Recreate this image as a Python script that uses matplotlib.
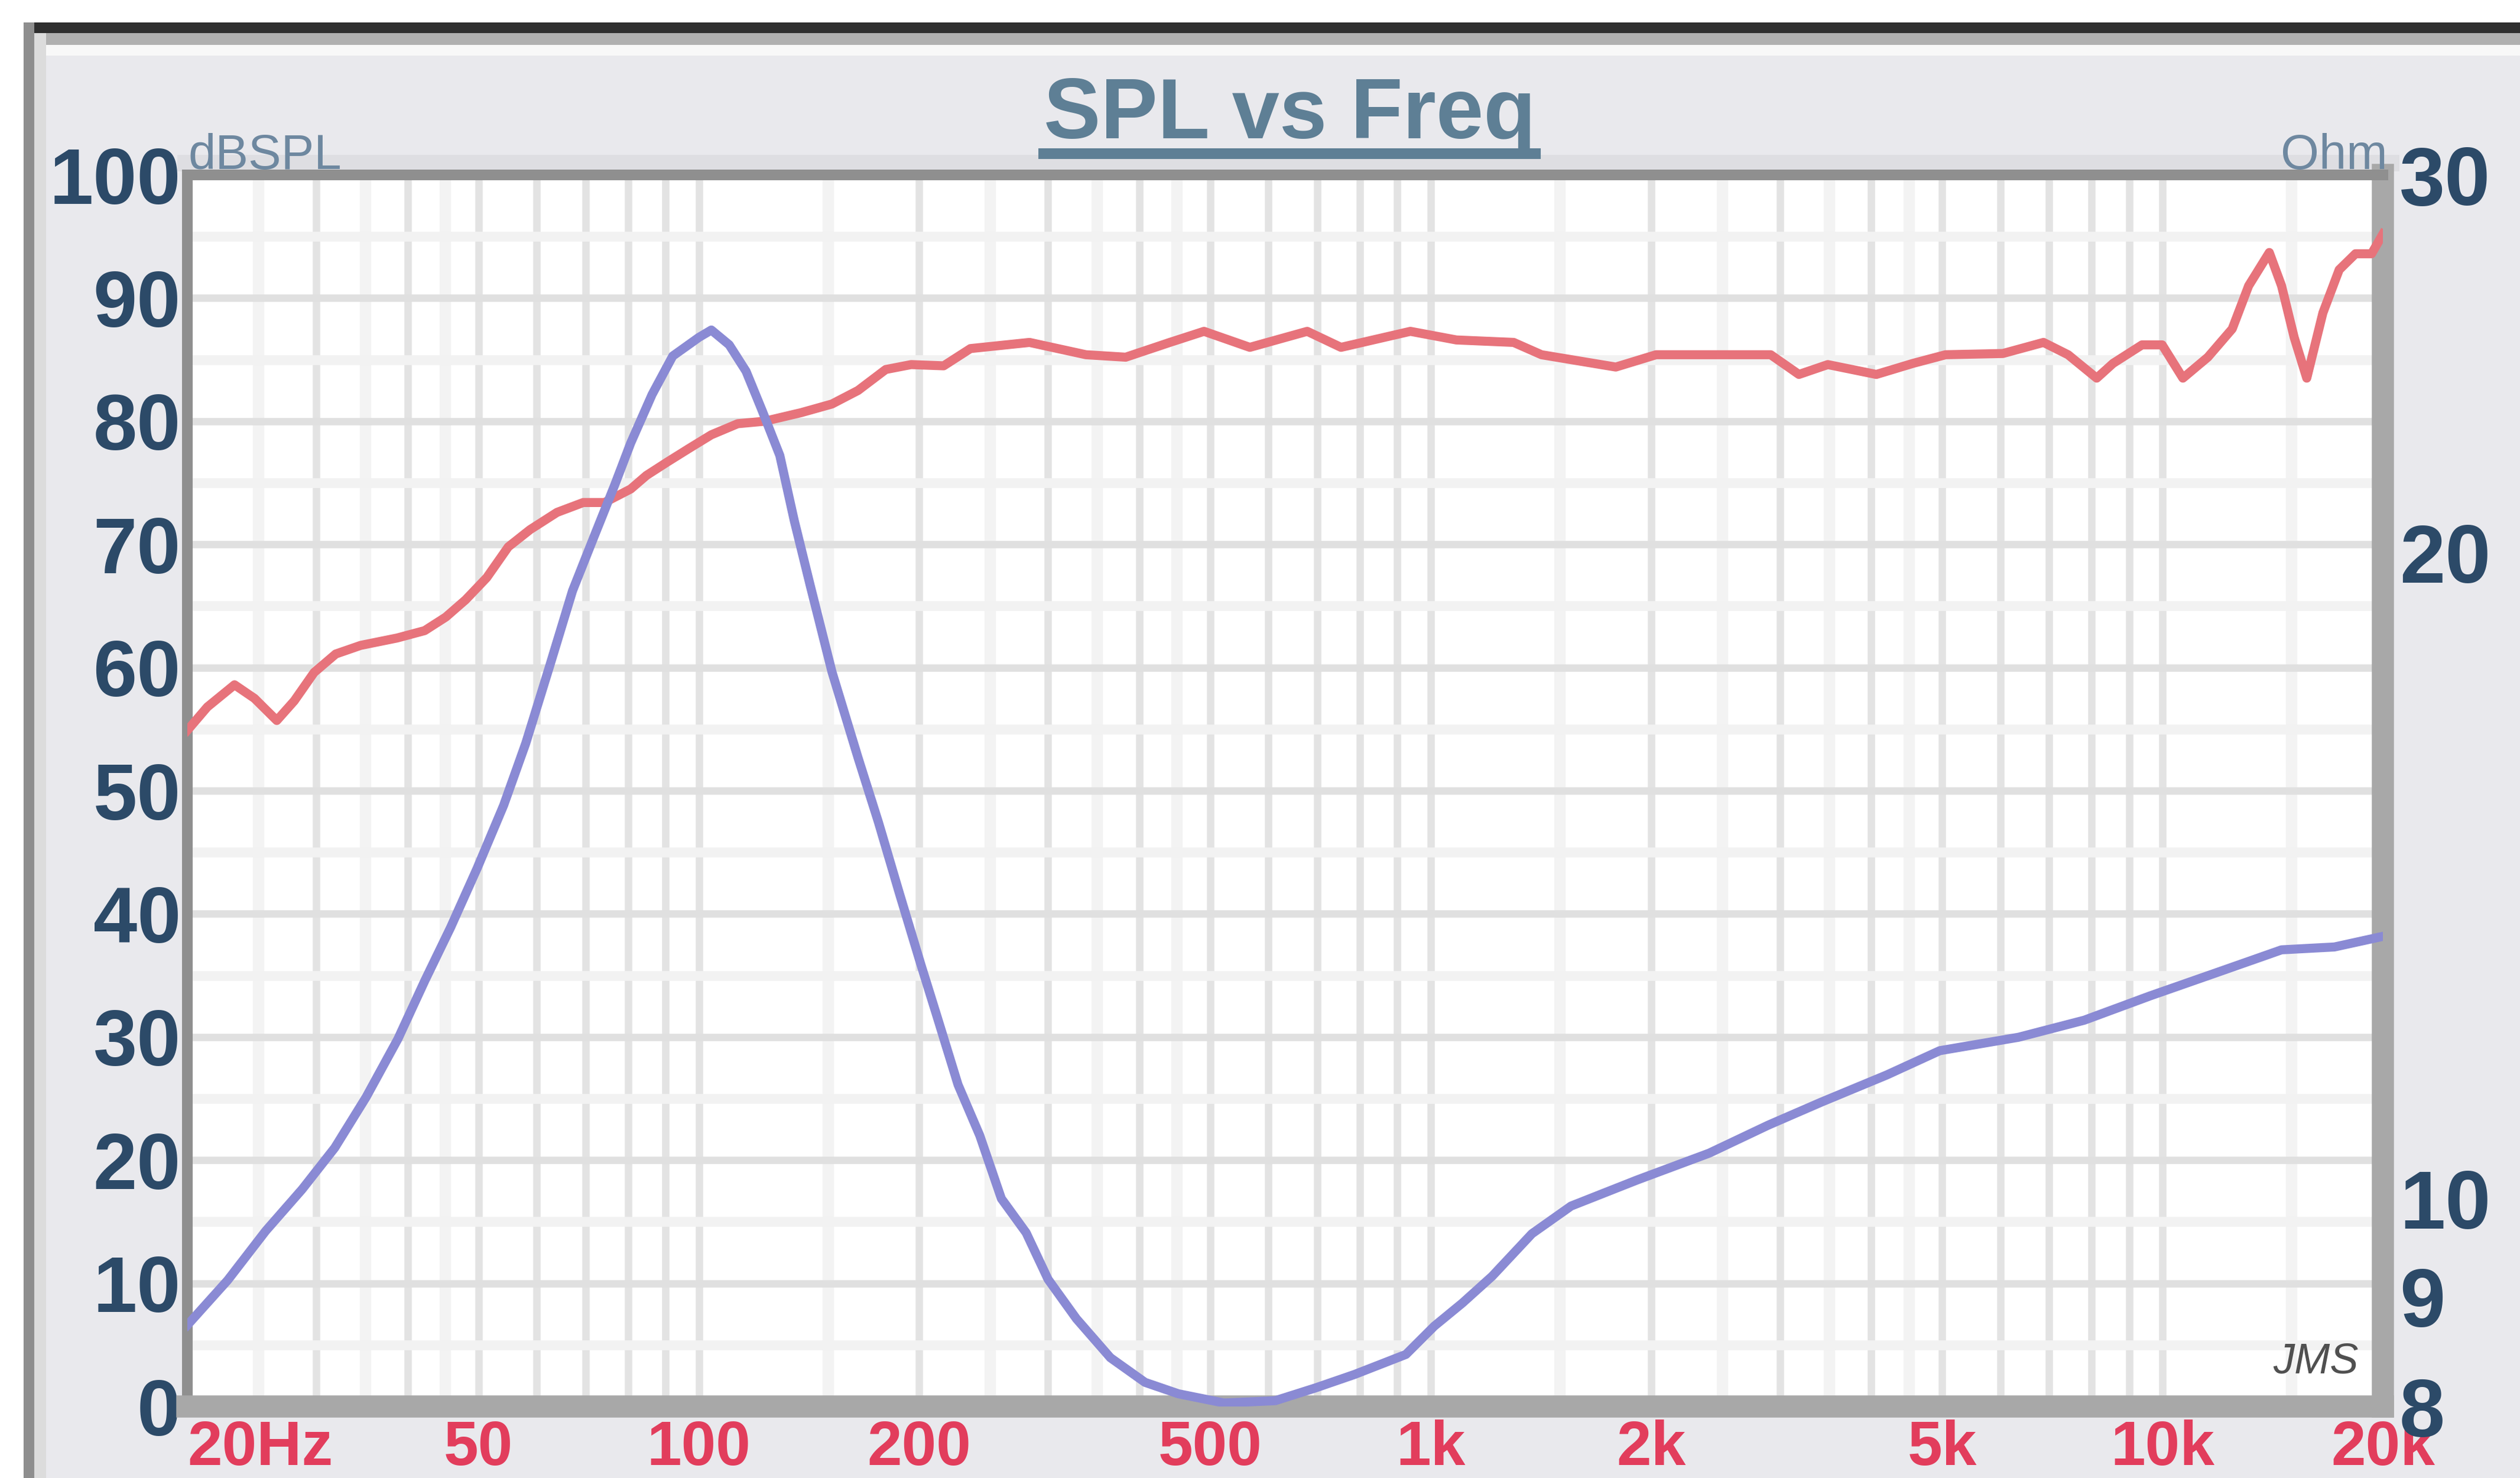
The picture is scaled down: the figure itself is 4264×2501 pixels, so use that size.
import numpy as np
import matplotlib
matplotlib.use('Agg')
import matplotlib.pyplot as plt
from matplotlib.patches import Rectangle
from matplotlib.lines import Line2D
from matplotlib.ticker import FixedLocator, LogLocator, MultipleLocator, NullFormatter, NullLocator

plt.rcParams['font.family'] = ['Liberation Sans', 'DejaVu Sans']

# SPL response (Hz, dB)
spl_freq = [20, 21.3, 23.2, 24.7, 26.5, 28, 29.8, 31.9, 34.5, 38.7,
            42.2, 45.1, 48, 51.3, 54.9, 58.8, 64, 69.5, 74.3, 80.7,
            84.8, 90.6, 97, 104, 113, 123, 138, 152, 165, 180,
            195, 216, 235, 283, 338, 383, 440, 490, 566, 678,
            754, 938, 1084, 1298, 1417, 1790, 2032, 2438, 2914, 3185,
            3488, 4063, 4561, 5053, 6050, 6875, 7428, 8128, 8558, 9373,
            9987, 10660, 11530, 12450, 13110, 13990, 14540, 15130, 15740, 16560,
            17430, 18350, 19300, 20000]
spl_db = [54.9, 56.8, 58.6, 57.5, 55.7, 57.3, 59.6, 61.1, 61.8, 62.4,
          63.0, 64.1, 65.5, 67.3, 69.8, 71.2, 72.6, 73.4, 73.4, 74.5,
          75.6, 76.7, 77.8, 78.9, 79.8, 80.0, 80.7, 81.4, 82.5, 84.2,
          84.6, 84.5, 85.9, 86.4, 85.4, 85.2, 86.4, 87.3, 86.0, 87.3,
          86.0, 87.3, 86.6, 86.4, 85.4, 84.4, 85.4, 85.4, 85.4, 83.8,
          84.6, 83.8, 84.7, 85.4, 85.5, 86.4, 85.4, 83.5, 84.7, 86.2,
          86.2, 83.5, 85.2, 87.5, 91.0, 93.7, 91.0, 86.8, 83.5, 88.8,
          92.3, 93.6, 93.6, 95.2]

# impedance curve (Hz, ohm)
imp_freq = [20, 22.7, 25.6, 28.7, 31.8, 35.1, 38.8, 42.2, 45.8, 49.8,
            54.1, 58.0, 62.5, 67.2, 71.7, 76.7, 80.7, 86.3, 92.1, 100, 104,
            110, 116, 122, 129, 135, 142, 152, 165, 176, 188,
            201, 212, 226, 242, 259, 280, 300, 328, 365, 407,
            452, 522, 613, 695, 787, 925, 1011, 1105, 1213, 1375,
            1555, 1912, 2402, 2892, 3416, 4202, 4960, 6354, 7816, 9614,
            11820, 14540, 17170, 20000]
imp_ohm = [8.73, 9.16, 9.66, 10.10, 10.56, 11.15, 11.87, 12.63, 13.38, 14.26,
           15.25, 16.3, 17.7, 19.2, 20.3, 21.5, 22.5, 23.7, 24.7, 25.2, 25.4,
           25.0, 24.3, 23.3, 22.2, 20.7, 19.3, 17.6, 16.05, 14.97, 13.87,
           12.86, 12.13, 11.30, 10.70, 10.0, 9.64, 9.17, 8.79, 8.43, 8.21,
           8.11, 8.03, 8.05, 8.16, 8.28, 8.46, 8.72, 8.94, 9.20, 9.63,
           9.92, 10.20, 10.50, 10.82, 11.09, 11.42, 11.72, 11.89, 12.11, 12.43,
           12.74, 13.06, 13.1, 13.25]

x_ticks = [20, 50, 100, 200, 500, 1000, 2000, 5000, 10000, 20000]
x_labels = ['20Hz', '50', '100', '200', '500', '1k', '2k', '5k', '10k', '20k']
spl_ticks = [0, 10, 20, 30, 40, 50, 60, 70, 80, 90, 100]
ohm_ticks = [8, 9, 10, 20, 30]
ohm_labels = ['8', '9', '10', '20', '30']
half_steps = [15, 25, 35, 45, 150, 250, 350, 450, 1500, 2500, 3500, 4500, 15000]

W, H = 4264, 2501
DPI = 200
fig = plt.figure(figsize=(W / DPI, H / DPI), dpi=DPI, facecolor='#e9e9ed')


def band(x0, y0, x1, y1, color):
    # box in pixel coords measured from the top-left corner
    fig.add_artist(Rectangle((x0 / W, 1 - y1 / H), (x1 - x0) / W, (y1 - y0) / H,
                             transform=fig.transFigure, color=color, zorder=-10, lw=0))


# window frame around the panel
band(0, 0, W, 38, 'white')
band(0, 0, 40, H, 'white')
band(40, 38, W, 56, '#2f2f2f')
band(40, 56, W, 76, '#b0b0b0')
band(40, 76, W, 94, '#f8f8f8')
band(40, 38, 58, H, '#8e8e8e')
band(58, 56, 78, H, '#dcdcdc')
band(300, 262, 4060, 290, '#dedee2')

L, R, T, B = 317, 4032, 296, 2380
ax = fig.add_axes([L / W, 1 - B / H, (R - L) / W, (B - T) / H])
ax.set_facecolor('white')
ax.set_axisbelow(True)
ax.set_xscale('log')
ax.set_xlim(20, 20000)
ax.set_ylim(0, 100)

# grid
ax.set_xticks(x_ticks, x_labels)
ax.xaxis.set_minor_locator(LogLocator(base=10, subs=np.arange(2, 10), numticks=50))
ax.xaxis.set_minor_formatter(NullFormatter())
ax.set_yticks(spl_ticks)
ax.yaxis.set_minor_locator(MultipleLocator(5))
ax.grid(which='both', axis='x', color='#e3e3e3', lw=4.5)
ax.grid(which='major', axis='y', color='#e0e0e0', lw=4.5)
ax.grid(which='minor', axis='y', color='#f2f2f2', lw=6)
for f in half_steps:
    ax.axvline(f, color='#f3f3f3', lw=7, zorder=0.4)

ax.plot(spl_freq, spl_db, color='#e7737b', lw=5.5, solid_joinstyle='round', zorder=3)

ax.tick_params(which='both', length=0)
ax.tick_params(axis='x', pad=8, labelsize=38, labelcolor='#e23d5c')
ax.tick_params(axis='y', pad=4, labelsize=48, labelcolor='#2c4a68')
for lab in ax.get_xticklabels() + ax.get_yticklabels():
    lab.set_fontweight('bold')
ax.get_xticklabels()[0].set_horizontalalignment('left')

for side in ['left', 'top']:
    ax.spines[side].set_color('#8f8f8f')
    ax.spines[side].set_linewidth(6.5)
for side in ['right', 'bottom']:
    ax.spines[side].set_color('#a8a8a8')
    ax.spines[side].set_linewidth(13.5)
for sp in ax.spines.values():
    sp.set_capstyle('projecting')

# impedance on the right log axis
ax2 = ax.twinx()
ax2.set_yscale('log')
ax2.set_ylim(8, 30)
ax2.plot(imp_freq, imp_ohm, color='#8a8ad4', lw=5.5, solid_joinstyle='round')
ax2.yaxis.set_major_locator(FixedLocator(ohm_ticks))
ax2.yaxis.set_minor_locator(NullLocator())
ax2.set_yticks(ohm_ticks, ohm_labels)
ax2.tick_params(axis='y', which='both', length=0, pad=10, labelsize=50, labelcolor='#2c4a68')
for lab in ax2.get_yticklabels():
    lab.set_fontweight('bold')
for sp in ax2.spines.values():
    sp.set_visible(False)

# title with underline
title = fig.text(2182 / W, 1 - 234 / H, 'SPL vs Freq', ha='center', va='baseline',
                 fontsize=52, fontweight='bold', color='#5e7f95')
fig.text(318 / W, 1 - 286 / H, 'dBSPL', ha='left', va='baseline', fontsize=30, color='#6e88a0')
fig.text(4040 / W, 1 - 286 / H, 'Ohm', ha='right', va='baseline', fontsize=30, color='#6e88a0')
ax.text(0.989, 0.02, 'JMS', transform=ax.transAxes, ha='right', va='bottom',
        fontsize=26, color='#505050', style='italic', zorder=5)

fig.canvas.draw()
bb = title.get_window_extent()
fig.add_artist(Line2D([bb.x0 / W, bb.x1 / W], [1 - 260 / H, 1 - 260 / H],
                      transform=fig.transFigure, color='#5e7f95', lw=6.5))

fig.savefig('out.png', dpi=DPI, facecolor=fig.get_facecolor())
